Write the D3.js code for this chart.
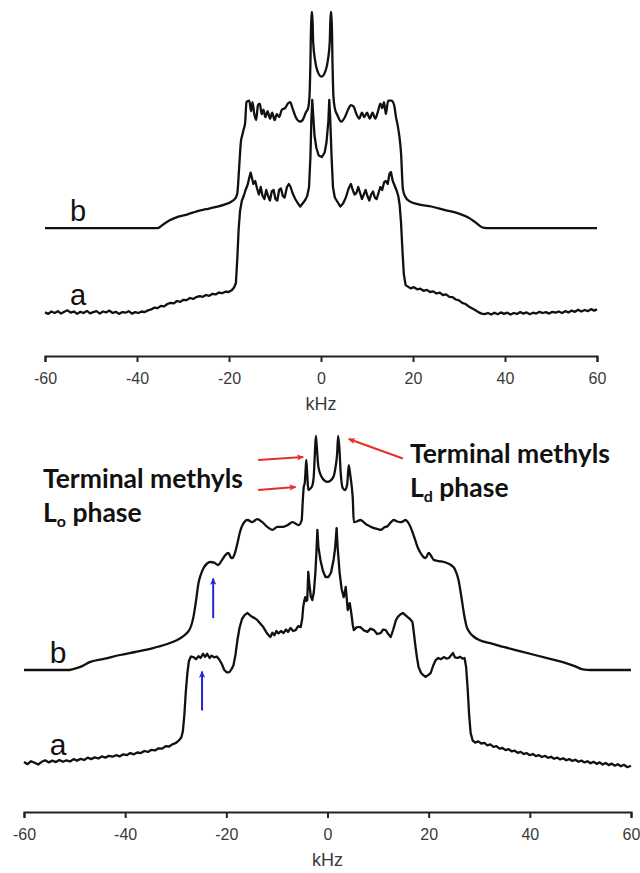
<!DOCTYPE html>
<html>
<head>
<meta charset="utf-8">
<script src="https://cdn.jsdelivr.net/npm/d3@7/dist/d3.min.js"></script>
<style>
  body { margin: 0; background: #fff; }
  svg { display: block; }
</style>
</head>
<body>
<div id="wrapper"></div>
<script>
// tick values shared by both panels
const tickValues = [-60, -40, -20, 0, 20, 40, 60];

// top panel, trace b  [kHz, intensity]
const topB = [[-60,0],[-40,0],[-35.5,0],[-34.5,1],[-33,2.5],[-31,3.8],[-29,4.6],[-27,5.6],[-25,6.3],[-23,7],[-21,7.8],[-19.5,8.8],[-18.6,10],[-18.2,11.5],[-17.8,20],[-17.4,29],[-17.1,31],[-16.8,33],[-16.5,35],[-16.2,42],[-15.6,42.5],[-15.2,39],[-14.9,42],[-14.5,38],[-14.1,36],[-13.7,41],[-13.3,41.5],[-12.9,38],[-12.5,39.5],[-12.1,37],[-11.6,39],[-11.1,36.5],[-10.6,38.5],[-10.1,36],[-9.6,38],[-9.1,37],[-8.5,39.5],[-7.8,40],[-7.2,41.5],[-6.7,42],[-6.2,40],[-5.5,37],[-4.6,35.5],[-4,36],[-3.3,38.5],[-2.8,40],[-2.5,44],[-2.3,55],[-2.1,72],[-1.9,72],[-1.7,62],[-1.3,56],[-0.8,52.5],[0.1,50.5],[1,52.5],[1.5,56],[1.9,62],[2.1,72],[2.3,72],[2.5,55],[2.7,44],[3,40],[3.6,37.5],[4.4,35.5],[5.2,37],[5.9,39.5],[6.5,41],[7.1,40.5],[7.7,38],[8.3,36.5],[8.9,38.5],[9.4,37],[10,38.5],[10.6,36.5],[11.2,38.5],[11.8,36.5],[12.4,39],[12.9,41.5],[13.3,40],[13.7,42],[14.1,38],[14.6,42.5],[15.3,42.5],[15.9,41],[16.3,37],[16.7,34],[17,31],[17.4,25],[17.8,13],[18.3,10.5],[19.2,9],[21,8],[24,7.2],[27,6],[30,4.8],[32,3.5],[33.5,2],[35,0.3],[36,0],[60,0]];

// top panel, trace a
const topA = [[-60,0.2],[-59.3,-0.3],[-58.6,0.5],[-57.9,0],[-57.2,0.6],[-56.5,-0.2],[-55.8,0.4],[-55.1,0.9],[-54.4,0.1],[-53.7,0.5],[-53,-0.3],[-52.3,0.4],[-51.6,0],[-50.9,0.7],[-50.2,-0.1],[-49.5,0.3],[-48.8,0.6],[-48.1,-0.2],[-47.4,0.5],[-46.7,0.2],[-46,0.8],[-45.3,0],[-44.6,0.4],[-43.9,-0.3],[-43.2,0.3],[-42.5,0.1],[-41.8,0.6],[-41.1,-0.2],[-40.4,0.3],[-39.7,0],[-39,0.5],[-38.3,0.3],[-37.6,0.9],[-36.9,1.2],[-36.2,1.8],[-35.5,1.6],[-34.8,2.4],[-34.1,2.2],[-33.4,3],[-32.7,3.4],[-32,3.2],[-31.3,4],[-30.6,3.7],[-29.9,4.4],[-29.2,4.3],[-28.5,5],[-27.8,4.7],[-27.1,5.3],[-26.4,5.6],[-25.7,5.4],[-25,6],[-24.3,5.7],[-23.6,6.4],[-22.9,6.2],[-22.2,6.8],[-21.5,6.6],[-20.8,7.1],[-20.1,7],[-19.4,7.6],[-18.9,8.5],[-18.5,10],[-18.2,18],[-17.9,28],[-17.6,34],[-17.2,37.5],[-16.8,39],[-16.4,41],[-16,42.5],[-15.6,45],[-15.3,46.8],[-15,45],[-14.7,43],[-14.3,44],[-13.9,41.5],[-13.5,39.5],[-13.1,42],[-12.7,39],[-12.3,38],[-11.9,41],[-11.5,39],[-11.1,37.5],[-10.7,40.5],[-10.3,41],[-9.9,38],[-9.5,37.5],[-9.1,41],[-8.7,41.5],[-8.3,39],[-7.9,38.5],[-7.4,42],[-7,43],[-6.6,42],[-6.2,40],[-5.6,38],[-5,36.5],[-4.5,35.5],[-4,36.5],[-3.5,37.5],[-3,39],[-2.6,42],[-2.3,52],[-2.1,64],[-1.9,71],[-1.7,66],[-1.4,59],[-1,55],[-0.5,52.5],[0.2,52],[0.8,53.5],[1.2,57],[1.6,64],[1.8,71],[2,65],[2.3,52],[2.6,42],[3,38.5],[3.6,37],[4.2,35.5],[4.8,36.5],[5.4,38.5],[6,41.5],[6.5,43],[6.9,41],[7.3,39.5],[7.7,40],[8.1,42],[8.5,40],[8.9,38],[9.3,39.5],[9.7,41],[10.1,39],[10.5,37.5],[10.9,39.5],[11.3,40.5],[11.7,38.5],[12.1,38],[12.5,40],[12.9,42],[13.3,41],[13.7,43.5],[14.1,44],[14.5,43],[14.9,46.5],[15.2,47],[15.6,44],[16,42.5],[16.4,41],[16.8,39],[17.1,36],[17.4,30],[17.7,21],[18,13],[18.4,9.3],[18.9,8.8],[19.5,8.2],[20.2,8.6],[20.9,7.9],[21.6,8.1],[22.3,7.4],[23,7.7],[23.7,7],[24.4,7.2],[25.1,6.5],[25.8,6.8],[26.5,6],[27.2,6.2],[27.9,5.4],[28.6,5.3],[29.3,4.5],[30,4.2],[30.7,3.4],[31.4,3],[32.1,2.2],[32.8,1.6],[33.5,1],[34.2,0.3],[34.9,-0.2],[35.6,-0.4],[36.3,0],[37,-0.5],[37.7,0.1],[38.4,-0.4],[39.1,0.2],[39.8,-0.3],[40.5,0.1],[41.2,-0.5],[41.9,0],[42.6,-0.3],[43.3,0.3],[44,-0.2],[44.7,0.2],[45.4,-0.4],[46.1,0.1],[46.8,-0.2],[47.5,0.4],[48.2,0],[48.9,0.3],[49.6,-0.2],[50.3,0.4],[51,0.1],[51.7,0.5],[52.4,0],[53.1,0.6],[53.8,0.2],[54.5,0.8],[55.2,0.4],[55.9,1.1],[56.6,0.5],[57.3,1],[58,0.6],[58.7,1.3],[59.4,0.8],[60,1.2]];

// bottom panel, trace b
const botB = [[-60,0],[-51,0],[-50.3,0.3],[-48.5,1.3],[-46.9,2.7],[-44,3.8],[-41,5],[-38,6],[-34.5,7.3],[-32,8.5],[-29.7,10],[-28.5,11.3],[-27.7,12.5],[-27,14.5],[-26.5,17.7],[-26,23],[-25.5,29],[-25,32],[-24.5,34],[-23.8,35.5],[-23.2,36],[-22.4,35.8],[-21.6,35],[-21,36.3],[-20.2,38.3],[-19.6,39],[-19.1,37.5],[-18.8,37.3],[-18.3,39],[-17.8,42.3],[-17.3,46],[-16.8,48.3],[-15.8,50],[-14.9,49.3],[-13.9,50.3],[-12.9,49.3],[-11.9,47.7],[-10.9,46.7],[-9.9,47.7],[-8.9,47.7],[-7.9,48.3],[-6.9,49.3],[-5.7,48.3],[-5.1,50],[-4.9,56],[-4.7,61],[-4.5,62.3],[-4.35,66],[-4.2,70],[-4,65],[-3.8,60],[-3.4,60.5],[-3,61.5],[-2.7,65],[-2.5,72],[-2.3,78],[-2.1,74],[-1.8,67.7],[-1.2,64.5],[-0.5,63],[0,62.7],[0.5,63],[1.2,64.5],[1.6,67.7],[1.9,72],[2.1,78],[2.35,74],[2.6,66],[3,60.7],[3.5,60],[3.9,62],[4.2,68.3],[4.5,65],[4.8,61],[5,57],[5.2,49.3],[5.8,49.5],[6.5,50],[7.2,49.2],[7.9,48.3],[8.5,47.8],[9.2,47.3],[9.9,47],[10.5,46.7],[11.2,47.5],[11.9,48],[12.5,49.2],[13.1,50],[13.8,49.5],[14.5,49.3],[15,49.6],[15.4,50],[15.9,49.3],[16.4,47.7],[17,45],[17.5,42.5],[17.8,41],[18.4,39],[18.9,37.8],[19.4,37.3],[20,39],[20.5,38],[21,36.7],[22,36.3],[23,36],[23.7,35.6],[24.4,35],[25.2,33.5],[25.9,30],[26.5,24],[27,18.5],[27.5,14.5],[28.2,12.3],[29,11],[30,10],[32.5,8.8],[35,7.6],[38,6.3],[41,5],[44,3.7],[47,2.4],[49,1.2],[50.5,0.2],[52,0],[60,0]];

// bottom panel, trace a
const botA = [[-60,0.3],[-59.3,-0.4],[-58.6,0.6],[-57.9,0.1],[-57.2,-0.5],[-56.5,0.4],[-55.8,0.9],[-55.1,0.2],[-54.4,0.8],[-53.7,0.3],[-53,1],[-52.3,0.4],[-51.6,0.9],[-50.9,0.5],[-50.2,1.3],[-49.5,0.8],[-48.8,1.4],[-48.1,1],[-47.4,1.8],[-46.7,1.3],[-46,1.9],[-45.3,1.5],[-44.6,2.2],[-43.9,1.8],[-43.2,2.4],[-42.5,2.1],[-41.8,2.6],[-41.1,2.2],[-40.4,2.9],[-39.7,2.6],[-39,3.3],[-38.3,2.9],[-37.6,3.5],[-36.9,3.3],[-36.2,4],[-35.5,3.7],[-34.8,4.4],[-34.1,4.2],[-33.4,4.9],[-32.7,4.8],[-32,5.6],[-31.3,5.5],[-30.6,6.3],[-30,6.6],[-29.4,7.5],[-28.9,8.5],[-28.6,10.5],[-28.3,16],[-28,24],[-27.7,30],[-27.4,34],[-27,35.5],[-26.5,35.3],[-26,34.6],[-25.5,35.6],[-25.1,35],[-24.6,36.4],[-24.2,35.4],[-23.8,36.4],[-23.3,35],[-22.9,35.8],[-22.4,35.2],[-21.9,35.5],[-21.4,34.5],[-20.9,33],[-20.4,31],[-19.9,30.2],[-19.4,30.3],[-19,31.2],[-18.6,32.5],[-18.2,36],[-17.8,41],[-17.4,45],[-16.9,48],[-16.4,49.3],[-15.8,50],[-15.3,49.2],[-14.9,48.7],[-14.4,48.3],[-13.9,47.7],[-13.3,46.5],[-12.7,45.3],[-12.1,43.6],[-11.6,42.5],[-11.3,42],[-10.9,43.4],[-10.5,42.6],[-10.1,44],[-9.7,43.2],[-9.2,44],[-8.7,43.3],[-8.2,44.5],[-7.8,43.7],[-7.3,45],[-6.8,44],[-6.3,44.3],[-5.8,45.6],[-5.3,45.3],[-5,48],[-4.8,52],[-4.6,54],[-4.4,55.3],[-4.2,54],[-4,54.3],[-3.9,59],[-3.8,63.7],[-3.6,60],[-3.3,55.5],[-3,54.3],[-2.7,57],[-2.4,63.3],[-2.2,70],[-2,77.7],[-1.8,72],[-1.4,67.7],[-0.9,64],[-0.4,62],[0.2,62],[0.7,63.5],[1.2,67.7],[1.5,71.5],[1.8,78.3],[2,72],[2.4,63.3],[2.8,58],[3.2,55.3],[3.4,56.5],[3.6,58.7],[3.8,55],[4,51],[4.2,52.5],[4.4,53.3],[4.7,50],[5,46],[5.2,44.3],[5.8,45.3],[6.5,45.3],[7.2,44.2],[7.9,43.7],[8.5,44.8],[9.2,44.3],[9.8,43],[10.5,43.3],[11,44.5],[11.5,44.3],[12,43],[12.5,42],[13,44.5],[13.5,47.5],[13.9,48.7],[14.4,49.5],[14.9,50],[15.4,49.3],[15.8,48.7],[16.3,48],[16.8,47],[17.1,43],[17.4,38.7],[17.7,35],[18,32],[18.5,30],[19,29.2],[19.4,28.7],[19.9,29.3],[20.4,30],[20.9,32.5],[21.4,34.3],[21.9,35],[22.4,34.6],[23,35.3],[23.5,34.8],[24,35],[24.4,35.8],[24.8,36.7],[25.2,35.2],[25.7,35],[26.2,35.4],[26.7,34.8],[27.1,35],[27.4,32],[27.7,25],[28,16],[28.3,10],[28.7,7.5],[29.2,6.8],[29.8,7.2],[30.4,6.5],[31,6.7],[31.6,5.9],[32.2,6.2],[32.8,5.4],[33.4,5.6],[34,4.8],[34.6,5],[35.2,4.3],[35.8,4.6],[36.4,3.9],[37,4.1],[37.6,3.4],[38.2,3.7],[38.8,3],[39.4,3.3],[40,2.6],[40.6,3],[41.2,2.3],[41.8,2.6],[42.4,2],[43,2.4],[43.6,1.7],[44.2,2.1],[44.8,1.4],[45.4,1.8],[46,1.2],[46.6,1.6],[47.2,0.9],[47.8,1.3],[48.4,0.7],[49,1.1],[49.6,0.4],[50.2,0.8],[50.8,0.2],[51.4,0.6],[52,-0.1],[52.6,0.4],[53.2,-0.3],[53.8,0.2],[54.4,-0.5],[55,0],[55.6,-0.7],[56.2,-0.2],[56.8,-0.9],[57.4,-0.4],[58,-1.1],[58.6,-0.6],[59.3,-1.4],[60,-0.9]];

// annotation arrows in the bottom panel (data units: kHz, intensity above trace a baseline)
const redArrows = [[-13.7, 101, -4.8, 102], [-13.7, 91, -6.3, 92], [14.9, 101.5, 4.2, 108]];
const blueArrows = [[-22.6, 48.3, -22.6, 61.5], [-24.8, 17.5, -24.8, 30.5]];

// ---------------------------------------------
const width = 640, height = 873;

const svg = d3.select("#wrapper").append("svg")
    .attr("width", width)
    .attr("height", height);

const defs = svg.append("defs");
function addMarker(id, color) {
    defs.append("marker")
        .attr("id", id)
        .attr("viewBox", "0 0 10 10")
        .attr("refX", 9).attr("refY", 5)
        .attr("markerWidth", 7).attr("markerHeight", 7)
        .attr("markerUnits", "userSpaceOnUse")
        .attr("orient", "auto-start-reverse")
        .append("path")
        .attr("d", "M0,0.5 L10,5 L0,9.5 L2.5,5 z")
        .attr("fill", color);
}
addMarker("redHead", "#e4302b");
addMarker("blueHead", "#2424d6");

const panels = [
    { a: topA, b: topB, xRange: [45, 597], yRange: [313, 13], bOffset: 28.3, axisY: 356, kHzY: 410,
      letters: [{ t: "b", x: 78, y: 221 }, { t: "a", x: 78, y: 305 }], fs: 29 },
    { a: botA, b: botB, xRange: [24, 631], yRange: [763, 463], bOffset: 31, axisY: 812, kHzY: 866,
      letters: [{ t: "b", x: 58, y: 663 }, { t: "a", x: 58, y: 755 }], fs: 30 }
];

panels.forEach((p, i) => {
    const xScaler = d3.scaleLinear().domain([-60, 60]).range(p.xRange);
    const yScaler = d3.scaleLinear().domain([0, 100]).range(p.yRange);

    const lineA = d3.line()
        .x(d => xScaler(d[0]))
        .y(d => yScaler(d[1]));
    const lineB = d3.line()
        .x(d => xScaler(d[0]))
        .y(d => yScaler(d[1] + p.bOffset))
        .curve(d3.curveMonotoneX);

    svg.append("path")
        .attr("d", lineB(p.b))
        .attr("fill", "none")
        .attr("stroke", "#111")
        .attr("stroke-width", 2.3)
        .attr("stroke-linejoin", "round");

    svg.append("path")
        .attr("d", lineA(p.a))
        .attr("fill", "none")
        .attr("stroke", "#111")
        .attr("stroke-width", 2.3)
        .attr("stroke-linejoin", "round");

    // axis
    const xAxis = d3.axisBottom(xScaler)
        .tickValues(tickValues)
        .tickSize(6)
        .tickSizeOuter(6)
        .tickPadding(11)
        .tickFormat(d3.format("d"));

    const gx = svg.append("g")
        .attr("transform", `translate(0, ${p.axisY})`)
        .call(xAxis);
    gx.select(".domain").attr("stroke", "#222").attr("stroke-width", 2);
    gx.selectAll(".tick line").attr("stroke", "#222").attr("stroke-width", 2);
    gx.selectAll(".tick text")
        .attr("font-family", "'Liberation Sans', Arial, sans-serif")
        .attr("font-size", 16)
        .attr("fill", "#3a3a3a")
        .text(d => d < 0 ? "-" + Math.abs(d) : d);

    svg.append("text")
        .attr("x", xScaler(0))
        .attr("y", p.kHzY)
        .attr("text-anchor", "middle")
        .attr("font-family", "'Liberation Sans', Arial, sans-serif")
        .attr("font-size", 18)
        .attr("fill", "#3a3a3a")
        .text("kHz");

    p.letters.forEach(l => {
        svg.append("text")
            .attr("x", l.x).attr("y", l.y)
            .attr("text-anchor", "middle")
            .attr("font-family", "'Liberation Sans', Arial, sans-serif")
            .attr("font-size", p.fs)
            .attr("fill", "#111")
            .text(l.t);
    });

    if (i === 1) {
        redArrows.forEach(a => {
            svg.append("line")
                .attr("x1", xScaler(a[0])).attr("y1", yScaler(a[1]))
                .attr("x2", xScaler(a[2])).attr("y2", yScaler(a[3]))
                .attr("stroke", "#e4302b").attr("stroke-width", 2)
                .attr("marker-end", "url(#redHead)");
        });
        blueArrows.forEach(a => {
            svg.append("line")
                .attr("x1", xScaler(a[0])).attr("y1", yScaler(a[1]))
                .attr("x2", xScaler(a[2])).attr("y2", yScaler(a[3]))
                .attr("stroke", "#2424d6").attr("stroke-width", 2)
                .attr("marker-end", "url(#blueHead)");
        });

        const annot = svg.append("g")
            .attr("font-family", "Lato, 'Open Sans', sans-serif")
            .attr("font-weight", "bold")
            .attr("font-size", 26.5)
            .attr("fill", "#111");

        annot.append("text").attr("x", 43).attr("y", 488).text("Terminal methyls");
        const lo = annot.append("text").attr("x", 43).attr("y", 522);
        lo.append("tspan").text("L");
        lo.append("tspan").attr("font-size", 16).attr("dy", 5).text("o");
        lo.append("tspan").attr("dy", -5).text(" phase");

        annot.append("text").attr("x", 410).attr("y", 463).text("Terminal methyls");
        const ld = annot.append("text").attr("x", 410).attr("y", 497);
        ld.append("tspan").text("L");
        ld.append("tspan").attr("font-size", 16).attr("dy", 5).text("d");
        ld.append("tspan").attr("dy", -5).text(" phase");
    }
});
</script>
</body>
</html>
